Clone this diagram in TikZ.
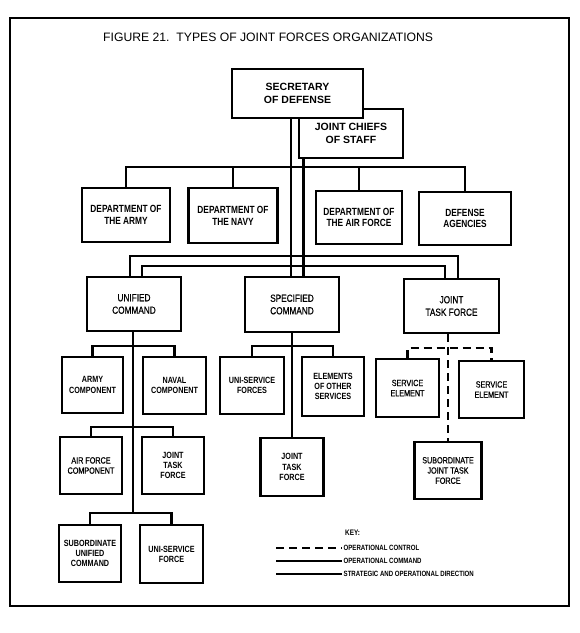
\documentclass[tikz,border=0pt]{standalone}
\usepackage{fontspec}
\setmainfont{Liberation Sans}
\newfontfamily\cond[FakeStretch=0.8]{Liberation Sans}
\newfontfamily\condm[FakeStretch=0.8,FakeBold=0.6]{Liberation Sans}
\begin{document}
\begin{tikzpicture}[x=1pt,y=-1pt,
  box/.style={draw, line width=2.2pt, fill=white, align=center, inner sep=0pt},
  conn/.style={line width=2.2pt},
  opc/.style={line width=2.2pt, dash pattern=on 8pt off 5pt},
  ftop/.style={font=\bfseries\fontsize{10.5}{13}\selectfont},
  fdept/.style={font=\cond\bfseries\fontsize{10.4}{11.8}\selectfont},
  fcmd/.style={font=\condm\fontsize{10.3}{12.5}\selectfont},
  fsm/.style={font=\cond\bfseries\fontsize{9}{10.2}\selectfont},
  fsml/.style={font=\condm\fontsize{9}{10.2}\selectfont},
  fkey/.style={font=\cond\bfseries\fontsize{7.6}{9}\selectfont, inner sep=1.5pt}]
\useasboundingbox (0,0) rectangle (580,633);
\fill[white] (0,0) rectangle (580,633);
\node[draw, line width=2.2pt, minimum width=559, minimum height=588, inner sep=0pt] (frame) at (289.5,312) {};
\node[anchor=base west, inner sep=0pt, font=\fontsize{12.2}{14}\selectfont] (title) at (103,41) {FIGURE 21.\ \ TYPES OF JOINT FORCES ORGANIZATIONS};

% top
\node[box, ftop, minimum width=104, minimum height=49] (jcs) at (351,133.5) {JOINT CHIEFS\\OF STAFF};
\node[box, ftop, minimum width=131, minimum height=49] (sec) at (297.5,93.5) {SECRETARY\\OF DEFENSE};

% departments
\node[box, fdept, minimum width=88, minimum height=54] (army) at (126,215) {DEPARTMENT OF\\THE ARMY};
\node[box, fdept, minimum width=89, minimum height=55] (navy) at (233,215.5) {DEPARTMENT OF\\THE NAVY};
\node[box, fdept, minimum width=86, minimum height=53] (airf) at (359,217.5) {DEPARTMENT OF\\THE AIR FORCE};
\node[box, fdept, minimum width=92, minimum height=53] (agen) at (465,218.5) {DEFENSE\\AGENCIES};

% commands
\node[box, fcmd, minimum width=94, minimum height=54] (uc) at (134,304) {UNIFIED\\COMMAND};
\node[box, fcmd, minimum width=94, minimum height=55] (spec) at (292,304.5) {SPECIFIED\\COMMAND};
\node[box, fcmd, minimum width=95, minimum height=54] (jtf) at (451.5,306) {JOINT\\TASK FORCE};

% under unified
\node[box, fsm, minimum width=61, minimum height=56] (armyc) at (92.5,385) {ARMY\\COMPONENT};
\node[box, fsm, minimum width=63, minimum height=57] (navc) at (174.5,385.5) {NAVAL\\COMPONENT};
\node[box, fsml, minimum width=62, minimum height=57] (afc) at (91,465.5) {AIR FORCE\\COMPONENT};
\node[box, fsm, minimum width=62, minimum height=57] (ujtf) at (173,465.5) {JOINT\\TASK\\FORCE};
\node[box, fsm, minimum width=62, minimum height=57] (suc) at (90,553.5) {SUBORDINATE\\UNIFIED\\COMMAND};
\node[box, fsm, minimum width=63, minimum height=58] (usf) at (171.5,554) {UNI-SERVICE\\FORCE};

% under specified
\node[box, fsm, minimum width=64, minimum height=57] (usfs) at (252,385.5) {UNI-SERVICE\\FORCES};
\node[box, fsm, minimum width=62, minimum height=59] (eos) at (333,386.5) {ELEMENTS\\OF OTHER\\SERVICES};
\node[box, fsm, minimum width=63, minimum height=58] (sjtf) at (292,467) {JOINT\\TASK\\FORCE};

% under JTF
\node[box, fsml, minimum width=63, minimum height=58] (se1) at (407.5,388) {SERVICE\\ELEMENT};
\node[box, fsml, minimum width=65, minimum height=57] (se2) at (491.5,389.5) {SERVICE\\ELEMENT};
\node[box, fsml, minimum width=67, minimum height=57] (subj) at (448,470.5) {SUBORDINATE\\JOINT TASK\\FORCE};

% helper coordinates
\coordinate (v1) at (291,0);
\coordinate (v2) at (303.5,0);
\coordinate (dbus) at (0,167);
\coordinate (ob) at (0,256);
\coordinate (ib) at (0,266);
\coordinate (ub1) at (0,346);
\coordinate (ub2) at (0,427);
\coordinate (ub3) at (0,513);
\coordinate (sb) at (0,346);
\coordinate (jb) at (0,348);

% main verticals
\draw[conn] (sec.south -| v1) -- (spec.north -| v1);
\draw[conn] (jcs.south -| v2) -- (spec.north -| v2);

% department bus
\draw[conn] (army.north) -- (army.north |- dbus) -- (agen.north |- dbus) -- (agen.north);
\draw[conn] (navy.north) -- (navy.north |- dbus);
\draw[conn] (airf.north) -- (airf.north |- dbus);

% command buses
\draw[conn] ([xshift=-4]uc.north) -- ([xshift=-4]uc.north |- ob) -- ([xshift=6.5]jtf.north |- ob) -- ([xshift=6.5]jtf.north);
\draw[conn] ([xshift=8]uc.north) -- ([xshift=8]uc.north |- ib) -- ([xshift=-6.5]jtf.north |- ib) -- ([xshift=-6.5]jtf.north);

% unified command tree
\draw[conn] ([xshift=-1]uc.south) -- ([xshift=-1]uc.south |- ub3);
\draw[conn] (armyc.north) -- (armyc.north |- ub1) -- (navc.north |- ub1) -- (navc.north);
\draw[conn] (afc.north) -- (afc.north |- ub2) -- (ujtf.north |- ub2) -- (ujtf.north);
\draw[conn] (suc.north) -- (suc.north |- ub3) -- (usf.north |- ub3) -- (usf.north);

% specified command tree
\draw[conn] (spec.south) -- (sjtf.north);
\draw[conn] (usfs.north) -- (usfs.north |- sb) -- (eos.north |- sb) -- (eos.north);

% joint task force tree (operational control)
\draw[opc] (jtf.south -| subj.north) -- (subj.north);
\draw[opc] (se1.north) -- (se1.north |- jb) -- (se2.north |- jb) -- (se2.north);

% key
\node[anchor=base west, font=\cond\bfseries\fontsize{8}{9}\selectfont, inner sep=0pt] (key) at (345,535) {KEY:};
\node[fkey, anchor=west] (t1) at (342,548) {OPERATIONAL CONTROL};
\node[fkey, anchor=west] (t2) at (342,561) {OPERATIONAL COMMAND};
\node[fkey, anchor=west] (t3) at (342,574) {STRATEGIC AND OPERATIONAL DIRECTION};
\coordinate (k1) at (276,548);
\coordinate (k2) at (276,561);
\coordinate (k3) at (276,574);
\draw[opc] (k1) -- (t1.west);
\draw[conn] (k2) -- (t2.west);
\draw[conn] (k3) -- (t3.west);
\end{tikzpicture}
\end{document}
